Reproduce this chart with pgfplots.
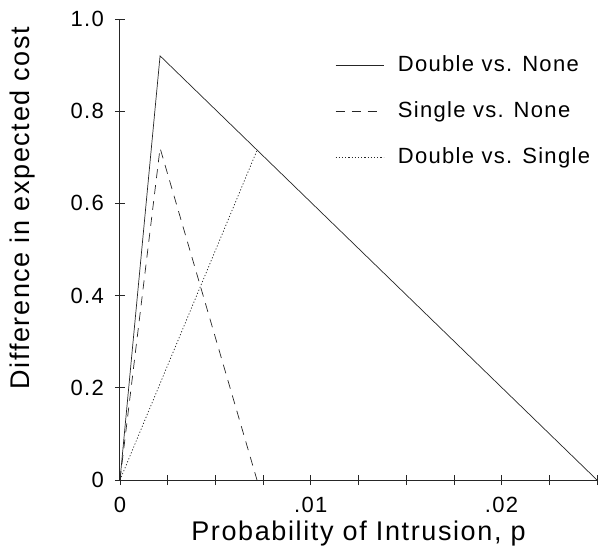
\documentclass[border=0pt]{standalone}
\usepackage{fontspec}
\setmainfont[LetterSpace=6]{Liberation Sans}
\usepackage{pgfplots}
\pgfplotsset{compat=1.18}

\newcommand\tickf{\fontsize{22}{26}\selectfont}
\newcommand\labf{\fontsize{27}{31}\selectfont}

\begin{document}
\begin{tikzpicture}
\useasboundingbox (-120pt,-74pt) rectangle (482pt,480pt);
\begin{axis}[
    at={(0,0)}, anchor=south west,
    width=477pt, height=461pt, scale only axis,
    xmin=0, xmax=0.025, ymin=0, ymax=1,
    axis lines=left,
    axis line style={-, line width=1pt, black!85},
    tick align=center,
    major tick length=10pt, minor tick length=10pt,
    every tick/.style={black!85, line width=0.8pt},
    xtick={0,0.01,0.02}, xticklabels={0,.01,.02},
    minor xtick={0.0025,0.005,0.0075,0.0125,0.015,0.0175,0.0225,0.025},
    ytick={0,0.2,0.4,0.6,0.8,1.0},
    yticklabels={0,0.2,0.4,0.6,0.8,1.0},
    scaled x ticks=false,
    /pgf/number format/assume math mode=true,
    ticklabel style={font=\tickf, inner sep=0pt},
    xticklabel style={anchor=base, yshift=-27pt},
    yticklabel style={anchor=east, xshift=-11pt},
    xlabel={Probability of Intrusion, p},
    ylabel={Difference in expected cost},
    label style={font=\labf},
    xlabel style={at={(axis description cs:0.5,-0.1323)}, anchor=base},
    ylabel style={at={(axis description cs:-0.1887,0.59)}, anchor=base},
    legend cell align=left,
    legend image code/.code={\draw[#1] (0pt,0pt) -- (48pt,0pt);},
    legend style={
        at={(rel axis cs:0.4507,0.924)}, anchor=north west,
        draw=none, fill=none, inner sep=0pt,
        font=\tickf, row sep=24pt,
        nodes={inner sep=0pt, text height=17pt, text depth=5pt},
    },
]
\addplot[black!85, line width=0.7pt] coordinates {(0,0) (0.0021,0.92) (0.025,0)};
\addlegendentry{\hspace{14pt}Double vs. None}
\addplot[black!85, line width=0.7pt, dash pattern=on 9pt off 7pt] coordinates {(0,0) (0.0021,0.72) (0.00718,0)};
\addlegendentry{\hspace{14pt}Single vs. None}
\addplot[black!85, line width=0.7pt, dash pattern=on 1.2pt off 2pt] coordinates {(0,0) (0.00718,0.715)};
\addlegendentry{\hspace{14pt}Double vs. Single}
\end{axis}
\end{tikzpicture}
\end{document}
